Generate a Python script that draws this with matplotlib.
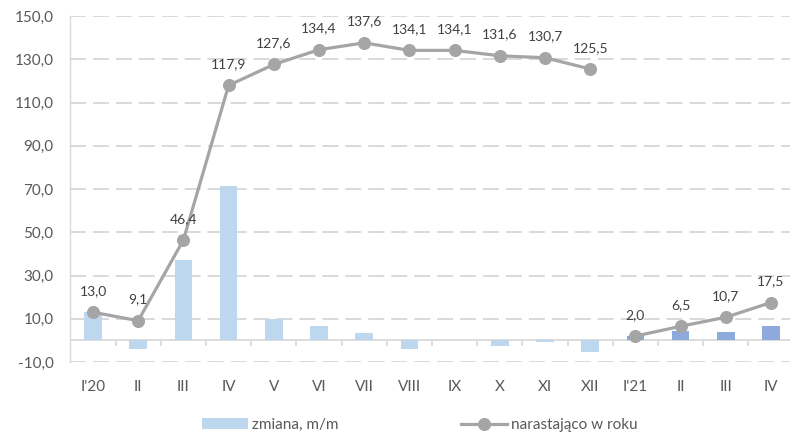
import matplotlib

matplotlib.use("Agg")
import matplotlib.pyplot as plt
import numpy as np

# months Jan 2020 - Apr 2021
MONTHS = ["I'20", "II", "III", "IV", "V", "VI", "VII", "VIII", "IX", "X", "XI", "XII",
          "I'21", "II", "III", "IV"]
# month-on-month change
CHANGE_MM = [13.0, -3.9, 37.3, 71.5, 9.8, 6.6, 3.2, -3.8, 0.0, -2.5, -0.9, -5.3,
             2.0, 4.2, 4.1, 6.8]
# cumulative since start of year
CUMULATIVE = [13.0, 9.1, 46.4, 117.9, 127.6, 134.4, 137.6, 134.1, 134.1, 131.6, 130.7, 125.5,
              2.0, 6.5, 10.7, 17.5]
YEAR_SPLIT = 12
Y_TICKS = [-10, 10, 30, 50, 70, 90, 110, 130, 150]

LIGHT_BLUE = "#BDD7EE"
DARK_BLUE = "#8EA9DB"
LINE_GRAY = "#A5A5A5"
GRID = "#D9D9D9"
TEXT = "#595959"

plt.rcParams["font.family"] = ["Lato", "DejaVu Sans"]

fig = plt.figure(figsize=(7.9, 4.34), dpi=100)
ax = fig.add_axes([70.4 / 790, 1 - 362 / 434, (790 - 70.4) / 790, 346 / 434])

x = np.arange(len(MONTHS))
bar_colors = [LIGHT_BLUE] * YEAR_SPLIT + [DARK_BLUE] * (len(MONTHS) - YEAR_SPLIT)
bars = ax.bar(x, CHANGE_MM, width=0.39, color=bar_colors, zorder=2)

# dashed gridlines, solid zero line with category ticks
for y in Y_TICKS:
    ax.axhline(y, color=GRID, lw=1.4, ls=(0, (8.2, 3.6)), zorder=0)
ax.axhline(0, color=GRID, lw=1.3, zorder=1)
ax.vlines(np.arange(0.5, len(MONTHS) - 0.5), -2.8, 0, color=GRID, lw=1.3, zorder=1)

cum = np.array(CUMULATIVE)
line_kw = dict(color=LINE_GRAY, lw=2.3, marker="o", ms=8.4, zorder=3)
line, = ax.plot(x[:YEAR_SPLIT], cum[:YEAR_SPLIT], **line_kw)
ax.plot(x[YEAR_SPLIT:], cum[YEAR_SPLIT:], **line_kw)

for xi, v in zip(x, cum):
    ax.annotate(f"{v:.1f}".replace(".", ","), (xi, v), xytext=(0, 11),
                textcoords="offset points", ha="center", va="bottom",
                fontsize=10, color="#404040", zorder=4)

ax.set_xlim(-0.5, 15.42)
ax.set_ylim(-10, 150)
ax.set_yticks(Y_TICKS, [f"{t:.1f}".replace(".", ",") for t in Y_TICKS])
ax.set_xticks(x, MONTHS)
ax.tick_params(axis="y", length=0, pad=12, labelsize=11, labelcolor=TEXT)
ax.tick_params(axis="x", length=0, pad=13, labelsize=11, labelcolor=TEXT)
for side in ("top", "right", "bottom"):
    ax.spines[side].set_visible(False)
ax.spines["left"].set_color(GRID)
ax.spines["left"].set_linewidth(1.0)

fig.legend([bars, line], ["zmiana, m/m", "narastająco w roku"], loc="center",
           bbox_to_anchor=(420 / 790, 1 - 425 / 434), ncol=2, frameon=False,
           fontsize=11, labelcolor=TEXT, handlelength=3.0, handletextpad=0.3,
           columnspacing=8.0)

fig.savefig("out.png", dpi=100)
